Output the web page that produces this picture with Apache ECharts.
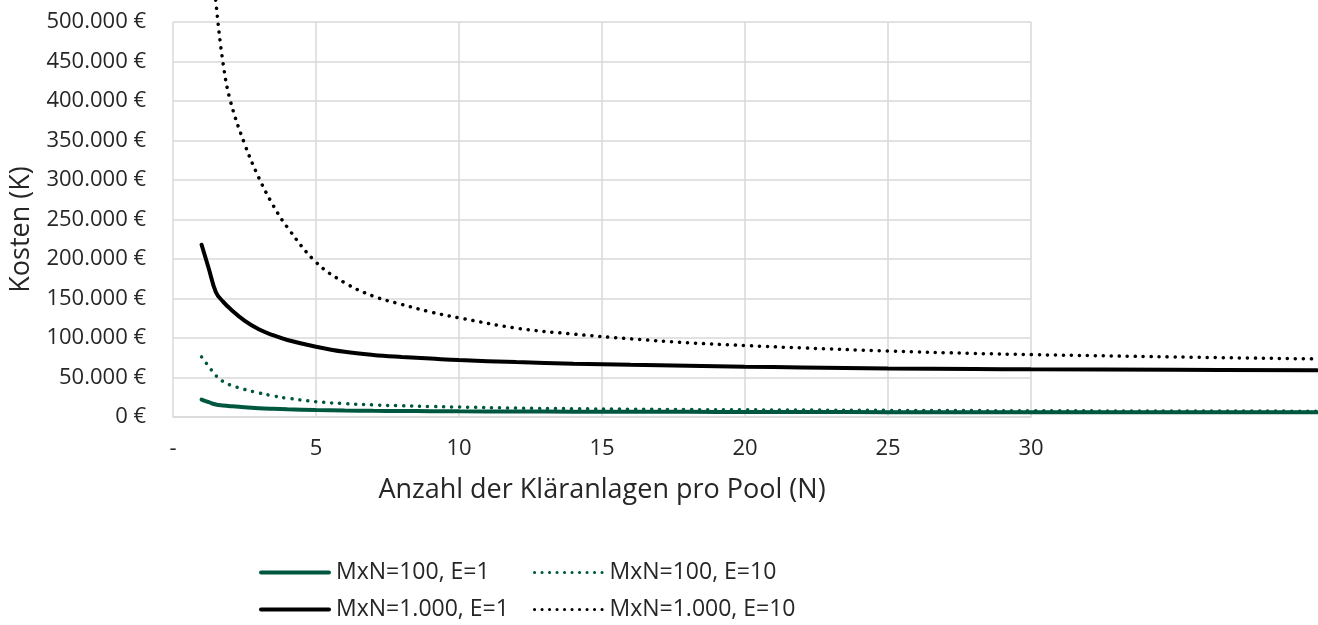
<!DOCTYPE html>
<html>
<head>
<meta charset="utf-8">
<script src="https://cdn.jsdelivr.net/npm/echarts@6/dist/echarts.min.js"></script>
<style>
  html, body { margin: 0; padding: 0; background: #fff; }
  #chart { width: 1318px; height: 625px; }
</style>
</head>
<body>
<div id="chart"></div>
<script>
// Anzahl der Kläranlagen pro Pool (N)
const poolSizes = [1, 1.25, 1.5, 1.75, 2, 2.5, 3, 3.5, 4, 5, 6, 7, 8, 9, 10, 12, 14, 16, 18, 20, 22, 25, 28, 30, 35, 40];

// Kosten in Tausend Euro
const costM100E1   = [22, 18.8, 15.8, 14.6, 13.7, 12.2, 11.1, 10.35, 9.75, 8.9, 8.25, 7.85, 7.6, 7.4, 7.2, 6.95, 6.75, 6.6, 6.5, 6.35, 6.3, 6.15, 6.1, 6.05, 6.0, 5.9];
const costM100E10  = [76, 64, 52.5, 45, 40.5, 35, 30.5, 26.8, 23.8, 19.4, 16.9, 15.3, 14.2, 13.3, 12.6, 11.3, 10.5, 9.9, 9.4, 9.1, 8.8, 8.4, 8.1, 7.9, 7.6, 7.4];
const costM1000E1  = [218, 188, 158, 146, 137, 122, 111, 103.5, 97.5, 89, 82.5, 78.5, 76, 74, 72, 69.5, 67.5, 66, 64.8, 63.6, 62.8, 61.5, 60.8, 60.4, 59.8, 59.2];
const costM1000E10 = [770, 620, 525, 448, 401, 346, 303, 268, 240, 196, 170, 153, 142.5, 133, 125.5, 112.5, 105, 99, 94, 90.5, 87.5, 83.5, 80.5, 79, 76, 73.5];

const seriesNames = ['MxN=100, E=1', 'MxN=100, E=10', 'MxN=1.000, E=1', 'MxN=1.000, E=10'];
const xTickStep = 5;
const yTickStep = 50000;

const GREEN = '#00573f';
const BLACK = '#000000';
const GRID_GRAY = '#d9d9d9';
const TEXT = '#262626';
const FONT = '"Open Sans", "Noto Sans", sans-serif';

// Plot frame: the labelled axes span N = 0..30, the curves run on to N = 40
// on an overlay grid with the same scale.
const PLOT_LEFT = 173;
const PLOT_TOP = 22;
const PLOT_BOTTOM = 208;
const UNIT_PX = 28.6;
const AXIS_MAX = 30;
const CURVE_MAX = 40;

const SOLID = { width: 4, type: 'solid', cap: 'round' };
const DOTTED = { width: 3.5, type: [0.1, 7.9], cap: 'round' };

function toPairs(values) {
  return poolSizes.map((n, i) => [n, values[i] * 1000]);
}

function euro(v) {
  const s = String(Math.round(v)).replace(/\B(?=(\d{3})+(?!\d))/g, '.');
  return s + ' €';
}

function lineSeries(name, values, color, dotted) {
  return {
    name: name,
    type: 'line',
    xAxisIndex: 1,
    yAxisIndex: 1,
    data: toPairs(values),
    showSymbol: false,
    symbol: 'none',
    smooth: 0.4,
    clip: false,
    lineStyle: Object.assign({ color: color }, dotted ? DOTTED : SOLID),
    itemStyle: { color: color },
    emphasis: { disabled: true },
    z: dotted ? 3 : 2
  };
}

// One legend block per entry so the two columns line up exactly.
const LEGEND_COLS = [259, 533];
const LEGEND_ROWS = [561, 598];

function legendBlock(name, color, dotted, col, row) {
  return {
    left: LEGEND_COLS[col],
    top: LEGEND_ROWS[row],
    orient: 'horizontal',
    padding: 0,
    itemWidth: 68,
    itemHeight: 14,
    selectedMode: false,
    textStyle: { fontFamily: FONT, fontSize: 23, color: TEXT, padding: [0, 0, 0, 2] },
    data: [{
      name: name,
      itemStyle: { opacity: 0 },
      lineStyle: Object.assign({ color: color },
        dotted ? { width: 3, type: [0.1, 7.4], cap: 'round' } : SOLID)
    }]
  };
}

const plotWidth = AXIS_MAX * UNIT_PX;
const curveWidth = CURVE_MAX * UNIT_PX;

const chart = echarts.init(document.getElementById('chart'), null, { renderer: 'canvas' });
chart.setOption({
  animation: false,
  backgroundColor: '#ffffff',
  textStyle: { fontFamily: FONT },
  grid: [
    { left: PLOT_LEFT, width: plotWidth, top: PLOT_TOP, bottom: PLOT_BOTTOM, containLabel: false },
    { left: PLOT_LEFT, width: curveWidth, top: PLOT_TOP, bottom: PLOT_BOTTOM, containLabel: false }
  ],
  xAxis: [
    {
      type: 'value',
      gridIndex: 0,
      min: 0,
      max: AXIS_MAX,
      interval: xTickStep,
      name: 'Anzahl der Kläranlagen pro Pool (N)',
      nameLocation: 'middle',
      nameGap: 60,
      nameTextStyle: { fontFamily: FONT, fontSize: 27, color: TEXT },
      axisLine: { show: true, lineStyle: { color: GRID_GRAY, width: 1.5 } },
      axisTick: { show: false },
      axisLabel: {
        margin: 21,
        fontFamily: FONT,
        fontSize: 22,
        color: TEXT,
        formatter: v => (v === 0 ? '-' : String(v))
      },
      splitLine: { show: true, lineStyle: { color: GRID_GRAY, width: 1.5 } }
    },
    { type: 'value', gridIndex: 1, min: 0, max: CURVE_MAX, show: false }
  ],
  yAxis: [
    {
      type: 'value',
      gridIndex: 0,
      min: 0,
      max: 500000,
      interval: yTickStep,
      name: 'Kosten (K)',
      nameLocation: 'middle',
      nameGap: 138,
      nameRotate: 90,
      nameTextStyle: { fontFamily: FONT, fontSize: 27, color: TEXT, padding: [0, 20, 0, 0] },
      axisLine: { show: false },
      axisTick: { show: false },
      axisLabel: { margin: 27, fontFamily: FONT, fontSize: 22, color: TEXT, formatter: euro },
      splitLine: { show: true, lineStyle: { color: GRID_GRAY, width: 1.5 } }
    },
    { type: 'value', gridIndex: 1, min: 0, max: 500000, show: false }
  ],
  legend: [
    legendBlock(seriesNames[0], GREEN, false, 0, 0),
    legendBlock(seriesNames[1], GREEN, true, 1, 0),
    legendBlock(seriesNames[2], BLACK, false, 0, 1),
    legendBlock(seriesNames[3], BLACK, true, 1, 1)
  ],
  series: [
    lineSeries(seriesNames[0], costM100E1, GREEN, false),
    lineSeries(seriesNames[1], costM100E10, GREEN, true),
    lineSeries(seriesNames[2], costM1000E1, BLACK, false),
    lineSeries(seriesNames[3], costM1000E10, BLACK, true)
  ]
});
</script>
</body>
</html>
